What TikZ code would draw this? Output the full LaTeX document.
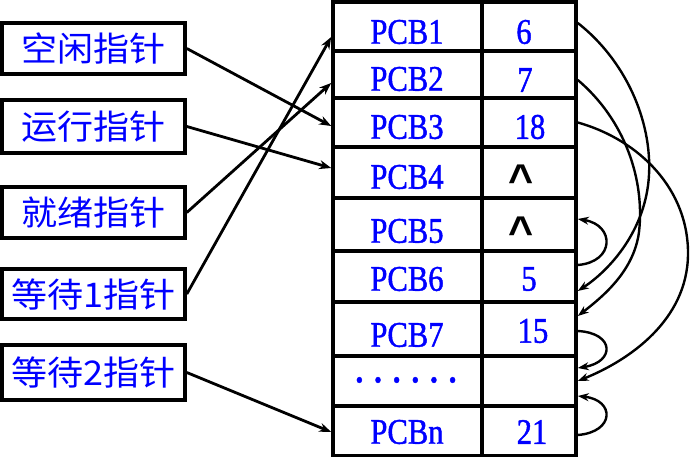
\documentclass[tikz,border=0pt]{standalone}
\usepackage{fontspec}
\newfontfamily\cjkfont[FakeStretch=1.06]{Noto Sans CJK SC}
\newfontfamily\pcbfont[FakeStretch=0.85,FakeBold=1.2]{Liberation Serif}
\newfontfamily\symfont{Liberation Sans}
\usetikzlibrary{arrows.meta}
\definecolor{txtblue}{RGB}{0,0,255}
\tikzset{
  ptrbox/.style={draw, line width=3.6pt, minimum width=183pt, inner sep=0pt,
    text=txtblue, font=\cjkfont\fontsize{34}{40}\selectfont},
  namecell/.style={draw, line width=3.6pt, minimum width=149pt, inner sep=0pt},
  valcell/.style={draw, line width=3.6pt, minimum width=94pt, inner sep=0pt},
  pcbtext/.style={inner sep=0pt, text=txtblue, font=\pcbfont\fontsize{36}{40}\selectfont},
  nulltext/.style={inner sep=0pt, font=\symfont\bfseries\fontsize{43}{46}\selectfont},
  ptrarrow/.style={line width=2.8pt, -{Stealth[length=12pt,width=9pt]}},
  linkarrow/.style={line width=2.4pt, -{Stealth[length=11pt,width=8pt]}}
}
\begin{document}
\begin{tikzpicture}[x=1pt,y=-1pt]
\useasboundingbox (0,0) rectangle (691,457);
% pointer boxes
\node[ptrbox, minimum height=51pt] (b1) at (93.5,48.5) {空闲指针};
\node[ptrbox, minimum height=53pt] (b2) at (93.5,126.5) {运行指针};
\node[ptrbox, minimum height=51pt] (b3) at (93.5,212.5) {就绪指针};
\node[ptrbox, minimum height=50pt] (b4) at (93.5,294) {等待1指针};
\node[ptrbox, minimum height=55pt] (b5) at (93.5,372.5) {等待2指针};
% table cells
\node[namecell, minimum height=49pt] (c1) at (407.5,26.5) {};
\node[namecell, minimum height=47pt] (c2) at (407.5,74.5) {};
\node[namecell, minimum height=49pt] (c3) at (407.5,122.5) {};
\node[namecell, minimum height=51pt] (c4) at (407.5,172.5) {};
\node[namecell, minimum height=53pt] (c5) at (407.5,224.5) {};
\node[namecell, minimum height=51pt] (c6) at (407.5,276.5) {};
\node[namecell, minimum height=54pt] (c7) at (407.5,329) {};
\node[namecell, minimum height=50pt] (c8) at (407.5,381) {};
\node[namecell, minimum height=50pt] (c9) at (407.5,431) {};
\node[valcell, minimum height=49pt] (v1) at (529,26.5) {};
\node[valcell, minimum height=47pt] (v2) at (529,74.5) {};
\node[valcell, minimum height=49pt] (v3) at (529,122.5) {};
\node[valcell, minimum height=51pt] (v4) at (529,172.5) {};
\node[valcell, minimum height=53pt] (v5) at (529,224.5) {};
\node[valcell, minimum height=51pt] (v6) at (529,276.5) {};
\node[valcell, minimum height=54pt] (v7) at (529,329) {};
\node[valcell, minimum height=50pt] (v8) at (529,381) {};
\node[valcell, minimum height=50pt] (v9) at (529,431) {};
% texts
\node[pcbtext] (t1) at (407,32) {PCB1};
\node[pcbtext] (t2) at (407,79) {PCB2};
\node[pcbtext] (t3) at (407,127) {PCB3};
\node[pcbtext] (t4) at (407,177) {PCB4};
\node[pcbtext] (t5) at (407,231) {PCB5};
\node[pcbtext] (t6) at (407,279) {PCB6};
\node[pcbtext] (t7) at (407,335) {PCB7};
\node[pcbtext, font=\pcbfont\bfseries\fontsize{36}{40}\selectfont] (t8) at (406,380) {.\hspace{11pt}.\hspace{11pt}.\hspace{11pt}.\hspace{11pt}.\hspace{11pt}.};
\node[pcbtext] (t9) at (407,432) {PCBn};
\node[pcbtext] (n1) at (524,32) {6};
\node[pcbtext] (n2) at (525,80) {7};
\node[pcbtext] (n3) at (530,127) {18};
\node[nulltext] (n4) at (521,180) {\^{}};
\node[nulltext] (n5) at (521,232) {\^{}};
\node[pcbtext] (n6) at (529,279) {5};
\node[pcbtext] (n7) at (533,331) {15};
\node[pcbtext] (n9) at (532,432) {21};
% pointer arrows
\draw[ptrarrow] (b1.east) -- ([yshift=-3.5pt]c3.west);
\draw[ptrarrow] (b2.east) -- ([yshift=4.5pt]c4.west);
\draw[ptrarrow] (b3.east) -- ([yshift=-8.5pt]c2.west);
\draw[ptrarrow] (b4.east) -- ([yshift=-10.5pt]c1.west);
\draw[ptrarrow] (b5.east) -- ([yshift=-1pt]c9.west);
% link arrows
\draw[linkarrow] ([yshift=3.5pt]v1.east) .. controls (625,60) and (652,120) .. (649,175)
   .. controls (646,230) and (610,270) .. ([yshift=-14.5pt]v6.east);
\draw[linkarrow] ([yshift=-5.5pt]v2.east) .. controls (625,120) and (645,180) .. (639,232)
   .. controls (634,270) and (605,295) .. ([yshift=13pt]v7.east);
\draw[linkarrow] (v3.east) .. controls (640,140) and (689,190) .. (688,255)
   .. controls (687,320) and (630,360) .. (v8.east);
\draw[linkarrow] ([yshift=11.5pt]v6.east) .. controls (615,262) and (615,225) .. ([yshift=5.5pt]v5.east);
\draw[linkarrow] ([yshift=-2pt]v7.east) .. controls (615,333) and (615,362) .. ([yshift=13pt]v8.east);
\draw[linkarrow] ([yshift=-4pt]v9.east) .. controls (615,432) and (615,400) .. ([yshift=-15pt]v8.east);
\end{tikzpicture}
\end{document}
